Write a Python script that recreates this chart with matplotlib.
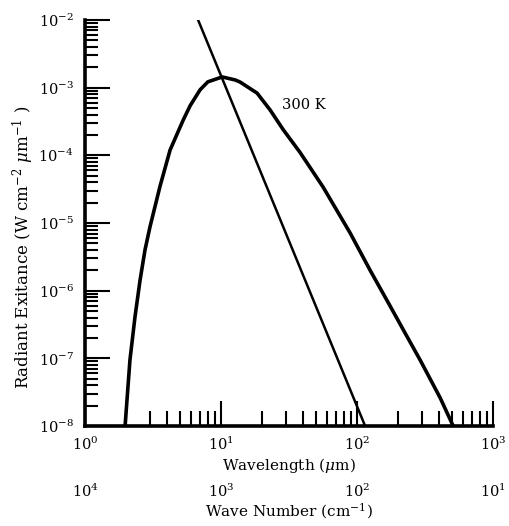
import matplotlib
matplotlib.use("Agg")
import matplotlib.pyplot as plt
from matplotlib.ticker import LogLocator, NullFormatter, FixedLocator

plt.rcParams["font.family"] = ["DejaVu Serif"]
plt.rcParams["mathtext.fontset"] = "dejavuserif"

# 300 K blackbody curve
wavelength = [1.97, 2.14, 2.33, 2.54, 2.76, 3.0, 3.56, 4.22, 5.26, 5.92, 7.01,
              8.0, 10.2, 12.7, 13.8, 18.4, 22.9, 28.6, 38.1, 56.2, 88.9, 124.6,
              175.0, 225.0, 290.0, 408.0, 508.0]
exitance = [1e-8, 9.5e-8, 4.1e-7, 1.44e-6, 4.0e-6, 8.7e-6, 3.5e-5, 1.2e-4,
            3.3e-4, 5.4e-4, 9.3e-4, 1.22e-3, 1.44e-3, 1.3e-3, 1.21e-3, 8.3e-4,
            4.7e-4, 2.4e-4, 1.1e-4, 3.4e-5, 7.1e-6, 2.0e-6, 5.9e-7, 2.37e-7,
            9.5e-8, 2.6e-8, 1e-8]

# peak locus line
peak_wavelength = [6.78, 114.5]
peak_exitance = [1e-2, 1e-8]

curve_label = "300 K"
curve_label_pos = (28.0, 5.6e-4)

x_ticks = [1, 10, 100, 1000]
x_tick_labels = ["$10^{0}$", "$10^{1}$", "$10^{2}$", "$10^{3}$"]
y_ticks = [1e-8, 1e-7, 1e-6, 1e-5, 1e-4, 1e-3, 1e-2]
y_tick_labels = ["$10^{-8}$", "$10^{-7}$", "$10^{-6}$", "$10^{-5}$",
                 "$10^{-4}$", "$10^{-3}$", "$10^{-2}$"]
wn_ticks = [1e1, 1e2, 1e3, 1e4]
wn_tick_labels = ["$10^{1}$", "$10^{2}$", "$10^{3}$", "$10^{4}$"]


def main():
    fig = plt.figure(figsize=(5.09, 5.26), dpi=100)
    ax = fig.add_axes([0.167, 0.19, 0.802, 0.772])

    ax.plot(wavelength, exitance, color="black", linewidth=2.6,
            solid_joinstyle="round", solid_capstyle="butt")
    ax.plot(peak_wavelength, peak_exitance, color="black", linewidth=1.8)
    ax.text(curve_label_pos[0], curve_label_pos[1], curve_label, fontsize=10.5,
            ha="left", va="center")

    ax.set_xscale("log")
    ax.set_yscale("log")
    ax.set_xlim(1, 1000)
    ax.set_ylim(1e-8, 1e-2)

    for side in ("top", "right"):
        ax.spines[side].set_visible(False)
    for side in ("left", "bottom"):
        ax.spines[side].set_linewidth(2.6)

    ax.xaxis.set_major_locator(FixedLocator(x_ticks))
    ax.set_xticklabels(x_tick_labels)
    ax.xaxis.set_minor_locator(LogLocator(base=10, subs=range(2, 10)))
    ax.xaxis.set_minor_formatter(NullFormatter())
    ax.yaxis.set_major_locator(FixedLocator(y_ticks))
    ax.set_yticklabels(y_tick_labels)
    ax.yaxis.set_minor_locator(LogLocator(base=10, subs=range(2, 10)))
    ax.yaxis.set_minor_formatter(NullFormatter())

    ax.tick_params(which="major", direction="in", length=18, width=1.5,
                   labelsize=10.5, pad=7)
    ax.tick_params(which="minor", direction="in", length=11, width=1.5)
    ax.tick_params(axis="y", which="minor", length=9)
    ax.tick_params(axis="y", which="major", pad=8)

    ax.set_xlabel("Wavelength ($\\mu$m)", fontsize=11, labelpad=2)
    ax.set_ylabel("Radiant Exitance (W cm$^{-2}$ $\\mu$m$^{-1}$ )", fontsize=12)
    ax.yaxis.set_label_coords(-0.12, 0.44)

    sec = ax.secondary_xaxis(-0.14, functions=(lambda x: 1e4 / x, lambda x: 1e4 / x))
    sec.spines["bottom"].set_visible(False)
    sec.xaxis.set_major_locator(FixedLocator(wn_ticks))
    sec.set_xticklabels(wn_tick_labels)
    sec.xaxis.set_minor_locator(FixedLocator([]))
    sec.tick_params(length=0, labelsize=10.5, pad=0)
    sec.set_xlabel("Wave Number (cm$^{-1}$)", fontsize=11, labelpad=1)

    fig.savefig("out.png", dpi=100)
    plt.close(fig)


if __name__ == "__main__":
    main()
